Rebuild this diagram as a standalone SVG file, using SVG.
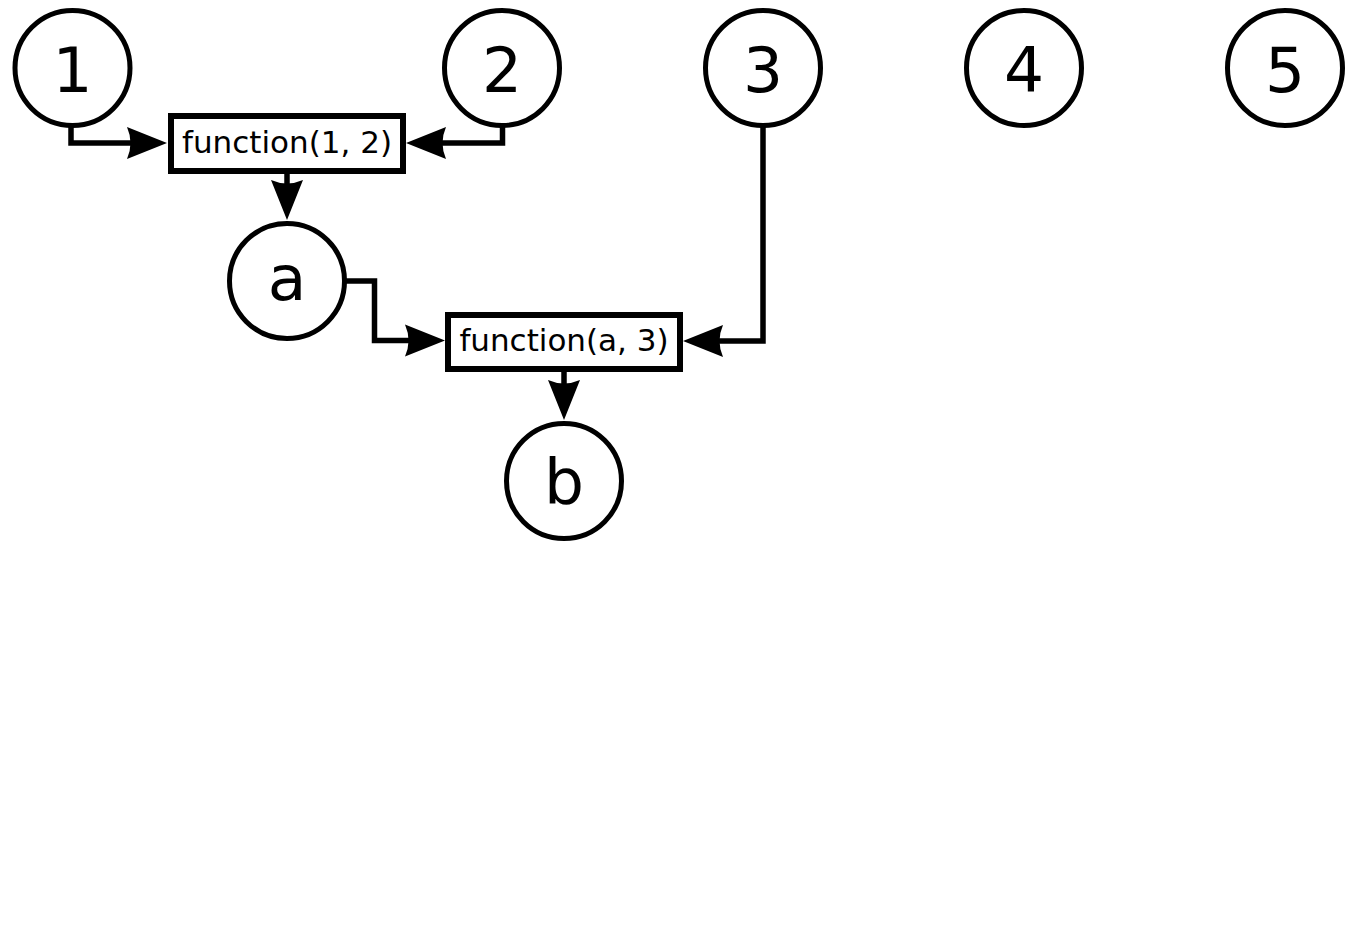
<svg xmlns="http://www.w3.org/2000/svg" width="1356" height="943" viewBox="0 0 1356 943">
<style>
.node circle{fill:#fff;stroke:#000;stroke-width:5}
.node rect{fill:#fff;stroke:#000;stroke-width:6}
.big{font-family:"DejaVu Sans",sans-serif;font-size:63px;text-anchor:middle;fill:#000}
.fn{font-family:"DejaVu Sans",sans-serif;font-size:31px;text-anchor:middle;fill:#000}
.edges path{fill:none;stroke:#000;stroke-width:5.5;stroke-linejoin:miter}
</style>
<defs>
<marker id="arr" markerUnits="userSpaceOnUse" viewBox="-42 -18 44 36" markerWidth="44" markerHeight="36" refX="-35" refY="0" orient="auto">
<path d="M0 0 L-40 -16 Q-33 0 -40 16 Z" fill="#000"/>
</marker>
</defs>
<rect width="1356" height="943" fill="#fff"/>
<g class="edges" id="connectors">
<path d="M71 125 V143 H132" marker-end="url(#arr)"/>
<path d="M502.5 125 V143 H441" marker-end="url(#arr)"/>
<path d="M287 171 V185" marker-end="url(#arr)"/>
<path d="M344 281 H374.5 V340.5 H410" marker-end="url(#arr)"/>
<path d="M763 125 V341 H718" marker-end="url(#arr)"/>
<path d="M564 369 V385" marker-end="url(#arr)"/>
</g>
<g class="node" id="n1"><circle cx="72.5" cy="68" r="57.5"/><text class="big" x="72.5" y="92">1</text></g>
<g class="node" id="n2"><circle cx="502" cy="68" r="57.5"/><text class="big" x="502" y="92">2</text></g>
<g class="node" id="n3"><circle cx="763" cy="68" r="57.5"/><text class="big" x="763" y="92">3</text></g>
<g class="node" id="n4"><circle cx="1024" cy="68" r="57.5"/><text class="big" x="1024" y="92">4</text></g>
<g class="node" id="n5"><circle cx="1285" cy="68" r="57.5"/><text class="big" x="1285" y="92">5</text></g>
<g class="node" id="f1"><rect x="171" y="116" width="232" height="55"/><text class="fn" x="287" y="153">function(1, 2)</text></g>
<g class="node" id="na"><circle cx="287" cy="281" r="57.5"/><text class="big" x="287" y="300">a</text></g>
<g class="node" id="f2"><rect x="448" y="315" width="232" height="54"/><text class="fn" x="564" y="351">function(a, 3)</text></g>
<g class="node" id="nb"><circle cx="564" cy="481" r="57.5"/><text class="big" x="564" y="503">b</text></g>
</svg>
